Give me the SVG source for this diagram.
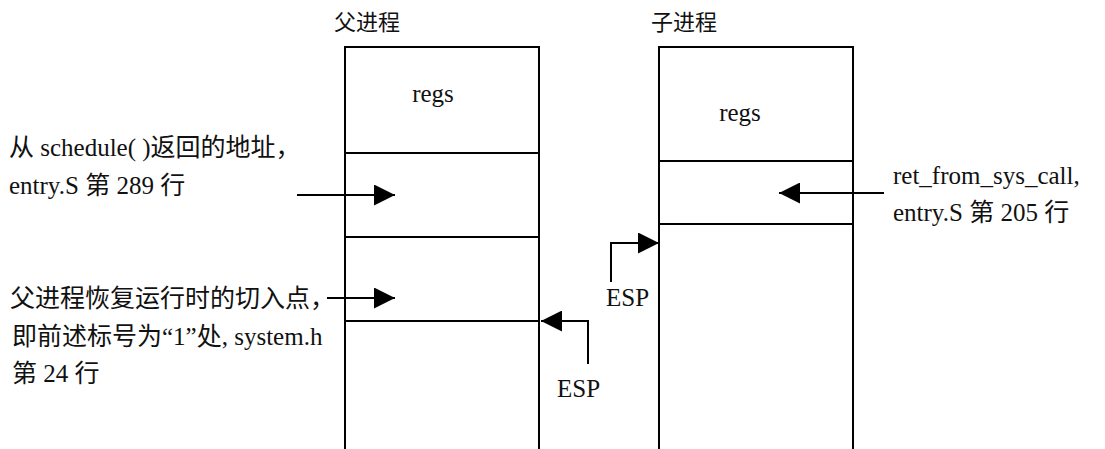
<svg xmlns="http://www.w3.org/2000/svg" width="1105" height="449" viewBox="0 0 1105 449">
<style>
.box{fill:none;stroke:#000;stroke-width:2}
.sep{stroke:#000;stroke-width:2}
.con{fill:none;stroke:#000;stroke-width:2}
.t{font-family:"Liberation Serif","Noto Sans CJK SC",serif;font-size:25px;fill:#111}
.h{font-size:22px}
.c{text-anchor:middle}
</style>
<defs>
<marker id="ah" viewBox="0 0 20 20" refX="20" refY="10" markerWidth="21" markerHeight="21" markerUnits="userSpaceOnUse" orient="auto">
<path d="M0,0 L20,10 L0,20 z" fill="#000"/>
</marker>
</defs>
<rect width="1105" height="449" fill="#fff"/>
<g id="parent">
<path class="box" d="M345,449 V47 H539 V449"/>
<line class="sep" x1="345" y1="153" x2="539" y2="153"/>
<line class="sep" x1="345" y1="237" x2="539" y2="237"/>
<line class="sep" x1="345" y1="321" x2="539" y2="321"/>
<text class="t h" x="334" y="30">父进程</text>
<text class="t c" x="433" y="102">regs</text>
</g>
<g id="child">
<path class="box" d="M659,449 V47 H853 V449"/>
<line class="sep" x1="659" y1="161" x2="853" y2="161"/>
<line class="sep" x1="659" y1="224" x2="853" y2="224"/>
<text class="t h" x="651" y="30">子进程</text>
<text class="t c" x="740" y="121">regs</text>
</g>
<g id="label-schedule">
<text class="t" x="9" y="156">从 schedule( )返回的地址，</text>
<text class="t" x="9" y="194">entry.S 第 289 行</text>
</g>
<g id="label-resume">
<text class="t" x="10" y="307">父进程恢复运行时的切入点，</text>
<text class="t" x="12" y="345">即前述标号为“1”处, system.h</text>
<text class="t" x="12" y="382">第 24 行</text>
</g>
<g id="label-ret">
<text class="t" x="893" y="184">ret_from_sys_call,</text>
<text class="t" x="893" y="221">entry.S 第 205 行</text>
</g>
<g id="esp-parent">
<text class="t" x="557" y="397">ESP</text>
</g>
<g id="esp-child">
<text class="t" x="606" y="306">ESP</text>
</g>
<g id="connectors">
<path class="con" d="M297,195 H395" marker-end="url(#ah)"/>
<path class="con" d="M327,298 H395" marker-end="url(#ah)"/>
<path class="con" d="M884,193 H779" marker-end="url(#ah)"/>
<path class="con" d="M588,364 V321 H541" marker-end="url(#ah)"/>
<path class="con" d="M611,282 V243 H659" marker-end="url(#ah)"/>
</g>
</svg>
